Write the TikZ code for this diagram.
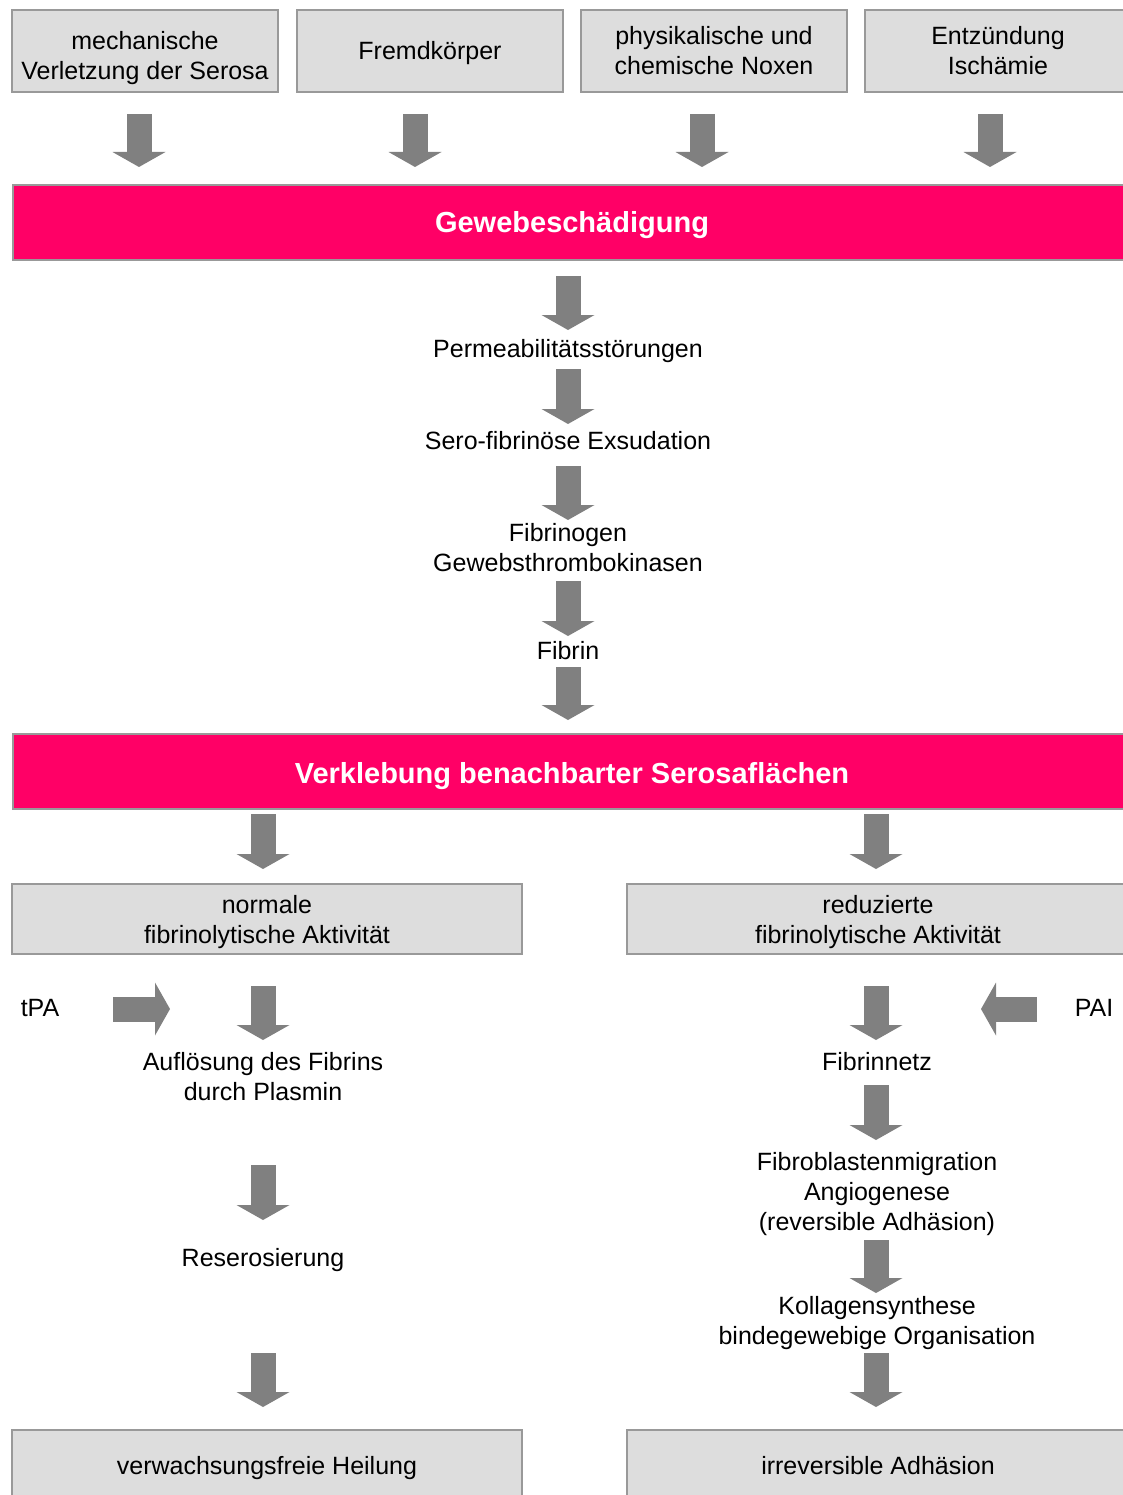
\documentclass[tikz,border=0pt]{standalone}
\usepackage{fontspec}
\setmainfont{Liberation Sans}
\usetikzlibrary{arrows.meta, positioning, calc}

\definecolor{boxgray}{HTML}{DDDDDD}
\definecolor{linegray}{HTML}{999999}
\definecolor{hotpink}{HTML}{FF0066}
\definecolor{arrowgray}{HTML}{808080}

\begin{document}
\begin{tikzpicture}[x=1pt, y=-1pt,
  every node/.style={font=\fontsize{25}{30}\selectfont, align=center, inner sep=0pt},
  cause/.style={draw=linegray, line width=2pt, fill=boxgray, minimum width=266pt, minimum height=82pt},
  band/.style={draw=linegray, line width=2pt, fill=hotpink, text=white, minimum width=1118pt, minimum height=75pt, font=\fontsize{29}{34}\selectfont\bfseries},
  result/.style={draw=linegray, line width=2pt, fill=boxgray, minimum height=70pt},
  fat/.style={draw=arrowgray, line width=25pt, -{Triangle[width=53pt, length=15pt, line width=0pt]}}]

\useasboundingbox (0,0) rectangle (1123,1495);
\clip (0,0) rectangle (1123,1495);

% Ursachen
\node[cause, text height=62pt] (mech) at (145,51) {mechanische\\Verletzung der Serosa};
\node[cause, text height=22pt] (fremd) at (430,51) {Fremdkörper};
\node[cause] (noxen) at (714,51) {physikalische und\\chemische Noxen};
\node[cause] (entz) at (998,51) {Entzündung\\Ischämie};
\node[band, text height=27pt] (schaden) at (572,222.5) {Gewebeschädigung};

\foreach \n/\dx in {mech/-6, fremd/-15, noxen/-12, entz/-8}
  \draw[fat] ($(\n.south)+(\dx,21)$) -- ($(\n.south |- schaden.north)+(\dx,-17)$);

% Kaskade
\node (perm) at (568,351) {Permeabilitätsstörungen};
\node (exsud) at (568,441) {Sero-fibrinöse Exsudation};
\node (fgen) at (568,548) {Fibrinogen\\Gewebsthrombokinasen};
\node (fibrin) at (568,651) {Fibrin};
\node[band, text height=31pt] (klebung) at (572,771.5) {Verklebung benachbarter Serosaflächen};

\draw[fat] ($(schaden.south -| perm)+(0,15)$) -- ($(perm)+(0,-21)$);
\draw[fat] ($(perm)+(0,18)$) -- ($(exsud)+(0,-17)$);
\draw[fat] ($(exsud)+(0,25)$) -- ($(fgen)+(0,-28)$);
\draw[fat] ($(fgen)+(0,33)$) -- ($(fibrin)+(0,-15)$);
\draw[fat] ($(fibrin)+(0,16)$) -- ($(fibrin |- klebung.north)+(0,-13)$);

% zwei Wege
\node[result, minimum width=510pt, text height=54pt] (normal) at (267,919) {normale\\fibrinolytische Aktivität};
\node[result, minimum width=502pt, text height=54pt] (reduz) at (878,919) {reduzierte\\fibrinolytische Aktivität};
\draw[fat] ($(normal.north)+(-4,-69)$) -- ($(normal.north)+(-4,-14)$);
\draw[fat] ($(reduz.north)+(-2,-69)$) -- ($(reduz.north)+(-2,-14)$);

% links
\node (tpa) at (40,1008) {tPA};
\node (aufl) at (263,1077) {Auflösung des Fibrins\\durch Plasmin};
\node (reser) at (263,1260) {Reserosierung};
\node[result, minimum width=510pt, text height=24pt] (heilung) at (267,1465) {verwachsungsfreie Heilung};
\draw[fat] ($(normal.south)+(-4,31)$) -- ($(aufl)+(0,-37)$);
\draw[fat] ($(tpa)+(73,1)$) -- ($(tpa)+(130,1)$);
\draw[fat] ($(aufl)+(0,88)$) -- ($(reser)+(0,-40)$);
\draw[fat] ($(reser)+(0,93)$) -- ($(heilung.north)+(-4,-22)$);

% rechts
\node (pai) at (1094,1008) {PAI};
\node (netz) at (877,1062) {Fibrinnetz};
\node (fibro) at (877,1194.5) {Fibroblastenmigration\\Angiogenese\\(reversible Adhäsion)};
\node (koll) at (877,1323) {Kollagensynthese\\bindegewebige Organisation};
\node[result, minimum width=502pt, text height=20pt] (adh) at (878,1465) {irreversible Adhäsion};
\draw[fat] ($(reduz.south)+(-2,31)$) -- ($(netz)+(-1,-22)$);
\draw[fat] ($(pai)+(-57,1)$) -- ($(pai)+(-113,1)$);
\draw[fat] ($(netz)+(-1,23)$) -- ($(fibro)+(-1,-54.5)$);
\draw[fat] ($(fibro)+(-1,45.5)$) -- ($(koll)+(-1,-30)$);
\draw[fat] ($(koll)+(-1,30)$) -- ($(adh.north)+(-2,-22)$);

\end{tikzpicture}
\end{document}
